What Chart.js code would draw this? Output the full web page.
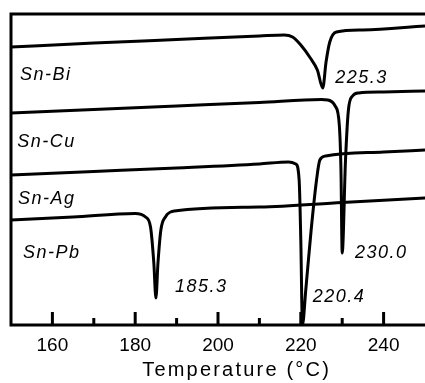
<!DOCTYPE html>
<html>
<head>
<meta charset="utf-8">
<script src="https://cdn.jsdelivr.net/npm/chart.js@4/dist/chart.umd.min.js"></script>
<style>
  html, body { margin:0; padding:0; background:#fff; }
  canvas { display:block; }
</style>
</head>
<body>
<canvas id="dsc" width="425" height="383"></canvas>
<script>
/* ---------- DSC traces: temperature (°C) vs offset heat flow (a.u.) ---------- */
const snBiT = [150, 170, 190, 210, 216, 218, 220, 222.3, 224, 225.3, 226.1, 227, 228.6, 235, 250];
const snBiQ = [278, 282, 285.5, 289, 290, 288, 280, 267, 255, 237, 263, 283, 293, 295, 299];

const snCuT = [150, 170, 190, 210, 225, 226.5, 228.3, 229.3, 229.7, 230.0, 230.8, 231.5, 232.5, 234, 240, 250];
const snCuQ = [212, 215.5, 219, 222.5, 225.5, 225, 219, 200, 155, 72, 165, 215, 229, 232, 233, 234];

const snAgT = [150, 170, 190, 210, 217, 218.8, 219.6, 220.0, 220.4, 221.2, 222.5, 223.8, 224.6, 226, 240, 250];
const snAgQ = [150, 153.5, 157, 161, 163, 161, 145, 85, 0, 35, 95, 145, 165, 169, 173, 175];

const snPbT = [150, 165, 180, 182.5, 183.7, 184.5, 185.0, 185.5, 186.2, 187.3, 189.5, 210, 230, 250];
const snPbQ = [105, 108, 111.5, 108, 98, 62, 27, 62, 95, 108, 114, 118, 122.5, 127];

const xTickLabels = [160, 180, 200, 220, 240];

// series names and peak temperatures, placed in data space (temperature, a.u.)
const seriesNames = [
  { text:'Sn-Bi', x:152.2, y:245 },
  { text:'Sn-Cu', x:151.5, y:178 },
  { text:'Sn-Ag', x:151.7, y:121 },
  { text:'Sn-Pb', x:152.9, y:67 }
];
const peakLabels = [
  { text:'225.3', x:228.3, y:242 },
  { text:'230.0', x:233.1, y:67 },
  { text:'185.3', x:189.6, y:33 },
  { text:'220.4', x:222.9, y:23 }
];

/* ---------- helpers ---------- */
const pts = (xs, ys) => xs.map((x, i) => ({ x, y: ys[i] }));
const trace = data => ({
  data, borderColor:'#000', borderWidth:3, pointRadius:0,
  cubicInterpolationMode:'monotone', fill:false
});

/* ---------- frame, inward ticks and text ---------- */
const framePlugin = {
  id:'frame',
  afterDatasetsDraw(chart) {
    const { ctx, chartArea:a, scales:{ x, y } } = chart;
    ctx.save();
    ctx.strokeStyle = '#000';
    ctx.lineWidth = 3;
    ctx.lineCap = 'square';
    ctx.beginPath();
    ctx.moveTo(a.right + 2, a.top); ctx.lineTo(a.left, a.top);
    ctx.lineTo(a.left, a.bottom); ctx.lineTo(a.right + 2, a.bottom);
    ctx.stroke();

    ctx.lineCap = 'butt';
    x.ticks.forEach(t => {
      if (t.value <= x.min || t.value >= x.max) return;
      const px = x.getPixelForValue(t.value);
      const len = xTickLabels.includes(t.value) ? 13 : 7;
      ctx.beginPath(); ctx.moveTo(px, a.bottom); ctx.lineTo(px, a.bottom - len); ctx.stroke();
    });

    ctx.fillStyle = '#000';
    ctx.textBaseline = 'alphabetic';
    ctx.textAlign = 'left';
    ctx.font = 'italic 18px "Liberation Sans", Arial, sans-serif';
    ctx.letterSpacing = '1.5px';
    seriesNames.concat(peakLabels).forEach(l => {
      ctx.fillText(l.text, x.getPixelForValue(l.x), y.getPixelForValue(l.y));
    });

    ctx.font = '20px "Liberation Sans", Arial, sans-serif';
    ctx.letterSpacing = '2.2px';
    ctx.textAlign = 'center';
    ctx.fillText('Temperature (°C)', x.getPixelForValue(204.5), 376);
    ctx.restore();
  }
};

new Chart(document.getElementById('dsc'), {
  type:'line',
  data:{ datasets:[ trace(pts(snBiT, snBiQ)), trace(pts(snCuT, snCuQ)), trace(pts(snAgT, snAgQ)), trace(pts(snPbT, snPbQ)) ] },
  options:{
    responsive:false, animation:false, devicePixelRatio:1,
    layout:{ padding:{ left:11, top:14, right:0, bottom:0 } },
    plugins:{ legend:{ display:false }, tooltip:{ enabled:false } },
    scales:{
      x:{
        type:'linear', min:150, max:250,
        grid:{ display:false, drawTicks:false }, border:{ display:false },
        ticks:{
          stepSize:10, autoSkip:false, maxRotation:0, padding:9, color:'#000',
          font:{ family:'"Liberation Sans", Arial, sans-serif', size:19 },
          callback: v => xTickLabels.includes(v) ? String(v) : ''
        },
        afterFit: s => { s.height = 58; s.paddingLeft = 0; s.paddingRight = 0; }
      },
      y:{ type:'linear', min:0, max:311, display:false }
    }
  },
  plugins:[framePlugin]
});
</script>
</body>
</html>
